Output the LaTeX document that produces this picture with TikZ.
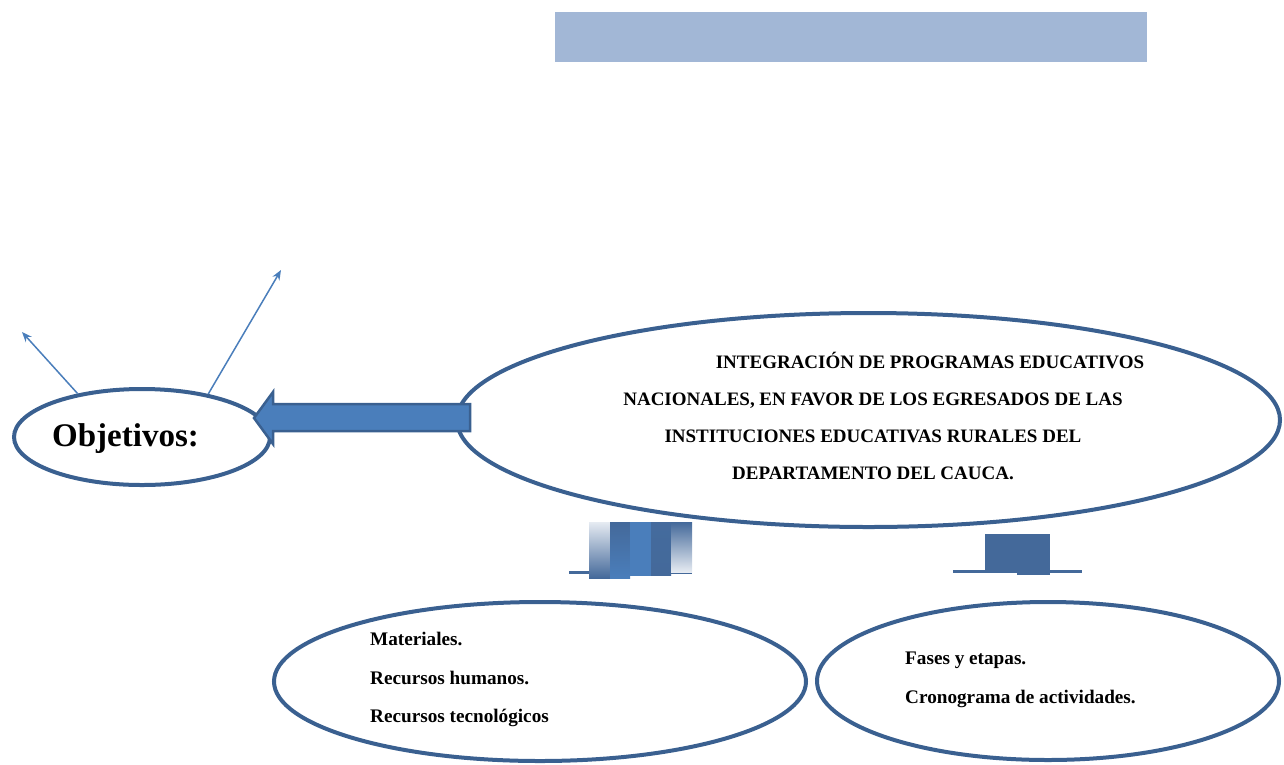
\documentclass[tikz,border=0pt]{standalone}
\usepackage{fontspec}
\setmainfont{Liberation Serif}
\usetikzlibrary{shapes.geometric,arrows.meta}
\definecolor{edgeblue}{HTML}{3A6090}
\definecolor{fillblue}{HTML}{4A7EBB}
\definecolor{barblue}{HTML}{44699A}
\definecolor{lightbar}{HTML}{A2B7D6}
\definecolor{palebar}{HTML}{E6EBF2}
\tikzset{
  oval/.style={ellipse, draw=edgeblue, line width=4pt, inner sep=0pt},
  thinarrow/.style={draw=fillblue, line width=1.5pt, -{Stealth[length=10pt,width=8pt]}},
  bigtext/.style={font=\fontsize{19}{37}\selectfont\bfseries, inner sep=0pt, align=center},
  listtext/.style={font=\fontsize{19.2}{38.5}\selectfont\bfseries, inner sep=0pt, align=left},
}
\begin{document}
\begin{tikzpicture}[x=1pt,y=-1pt]
\useasboundingbox (0,0) rectangle (1284,764);
% top bar
\fill[lightbar] (555,12) rectangle (1147,62);
% ellipses
\node[oval, minimum width=823pt, minimum height=214pt] (main) at (868.5,420) {};
\node[oval, minimum width=256pt, minimum height=96pt] (obj) at (142,437) {};
\node[oval, minimum width=532pt, minimum height=159pt] (res) at (540,681.5) {};
\node[oval, minimum width=462pt, minimum height=158pt] (fas) at (1048,681) {};
% texts
\node[font=\fontsize{33}{38}\selectfont\bfseries, inner sep=0pt, anchor=base west] (objt) at (52,446) {Objetivos:};
\node[bigtext, anchor=base] (maint) at (873,479) {\hspace*{114pt}INTEGRACIÓN DE PROGRAMAS EDUCATIVOS\\
NACIONALES, EN FAVOR DE LOS EGRESADOS DE LAS\\
INSTITUCIONES EDUCATIVAS RURALES DEL\\
DEPARTAMENTO DEL CAUCA.};
\node[listtext, anchor=base west] (rest) at (370,722.5) {Materiales.\\Recursos humanos.\\Recursos tecnológicos};
\node[listtext, anchor=base west] (fast) at (905,703) {Fases y etapas.\\Cronograma de actividades.};
% thin arrows
\coordinate (tipa) at (22,332);
\coordinate (tipb) at (281,270);
\draw[thinarrow] (obj.146) -- (tipa);
\draw[thinarrow] (obj.33) -- (tipb);
% block arrow from main to obj
\filldraw[fill=fillblue, draw=edgeblue, line width=2.5pt, line join=miter]
  (470,404) -- (273,404) -- (273,392) -- (254,418) -- (273,444) -- (273,431) -- (470,431) -- cycle;
% left bar group
\draw[barblue, line width=3pt] (569,572) -- (692,572);
\shade[top color=palebar, bottom color=barblue] (589,522) rectangle (610,578);
\shade[top color=barblue, bottom color=fillblue] (610,522) rectangle (630,578);
\fill[fillblue] (630,522) rectangle (651,576);
\shade[top color=barblue!90!fillblue, bottom color=barblue] (651,522) rectangle (671,575);
\shade[top color=barblue, bottom color=palebar] (671,522) rectangle (692,572);
% right bar group
\draw[barblue, line width=3pt] (953,571) -- (1082,571);
\fill[barblue] (985,534) rectangle (1050,573);
\fill[barblue] (1017,570) rectangle (1050,575);
\end{tikzpicture}
\end{document}
